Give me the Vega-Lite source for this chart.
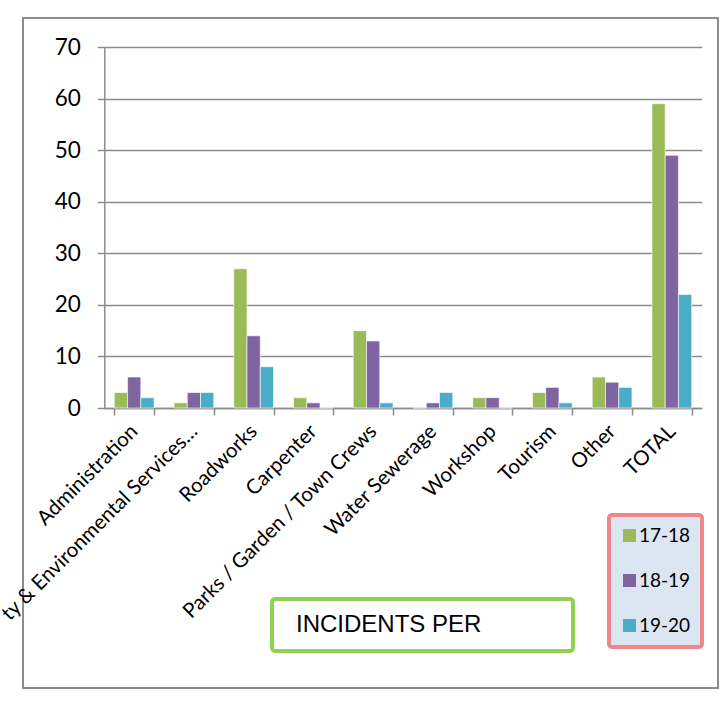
{
  "$schema": "https://vega.github.io/schema/vega-lite/v6.json",
  "autosize": "none",
  "width": 695,
  "height": 670,
  "padding": {"left": 23, "top": 18, "right": 10, "bottom": 18},
  "background": "white",
  "data": {
    "values": [
      {"dept": "Administration", "year": "17-18", "incidents": 3},
      {"dept": "Administration", "year": "18-19", "incidents": 6},
      {"dept": "Administration", "year": "19-20", "incidents": 2},
      {"dept": "ty & Environmental Services…", "year": "17-18", "incidents": 1},
      {"dept": "ty & Environmental Services…", "year": "18-19", "incidents": 3},
      {"dept": "ty & Environmental Services…", "year": "19-20", "incidents": 3},
      {"dept": "Roadworks", "year": "17-18", "incidents": 27},
      {"dept": "Roadworks", "year": "18-19", "incidents": 14},
      {"dept": "Roadworks", "year": "19-20", "incidents": 8},
      {"dept": "Carpenter", "year": "17-18", "incidents": 2},
      {"dept": "Carpenter", "year": "18-19", "incidents": 1},
      {"dept": "Carpenter", "year": "19-20", "incidents": 0},
      {"dept": "Parks / Garden / Town Crews", "year": "17-18", "incidents": 15},
      {"dept": "Parks / Garden / Town Crews", "year": "18-19", "incidents": 13},
      {"dept": "Parks / Garden / Town Crews", "year": "19-20", "incidents": 1},
      {"dept": "Water Sewerage", "year": "17-18", "incidents": 0},
      {"dept": "Water Sewerage", "year": "18-19", "incidents": 1},
      {"dept": "Water Sewerage", "year": "19-20", "incidents": 3},
      {"dept": "Workshop", "year": "17-18", "incidents": 2},
      {"dept": "Workshop", "year": "18-19", "incidents": 2},
      {"dept": "Workshop", "year": "19-20", "incidents": 0},
      {"dept": "Tourism", "year": "17-18", "incidents": 3},
      {"dept": "Tourism", "year": "18-19", "incidents": 4},
      {"dept": "Tourism", "year": "19-20", "incidents": 1},
      {"dept": "Other", "year": "17-18", "incidents": 6},
      {"dept": "Other", "year": "18-19", "incidents": 5},
      {"dept": "Other", "year": "19-20", "incidents": 4},
      {"dept": "TOTAL", "year": "17-18", "incidents": 59},
      {"dept": "TOTAL", "year": "18-19", "incidents": 49},
      {"dept": "TOTAL", "year": "19-20", "incidents": 22}
    ]
  },
  "mark": {"type": "bar", "stroke": "white", "strokeWidth": 0.6},
  "encoding": {
    "x": {
      "field": "dept",
      "type": "nominal",
      "sort": null,
      "scale": {"range": [81.3, 678.7], "paddingInner": 0.335, "paddingOuter": 0.1675},
      "axis": {
        "title": null,
        "orient": "bottom",
        "offset": -280,
        "labelAngle": -45,
        "labelAlign": "right",
        "labelBaseline": "middle",
        "labelFont": "Lato",
        "labelFontSize": 20.5,
        "labelColor": "black",
        "labelPadding": 13,
        "labelLimit": 500,
        "labelOverlap": false,
        "labelBound": false,
        "tickBand": "extent",
        "tickSize": 7,
        "tickColor": "#8c8c8c",
        "tickWidth": 1.5,
        "domainColor": "#8c8c8c",
        "domainWidth": 1.5,
        "grid": false
      }
    },
    "xOffset": {"field": "year", "type": "nominal", "sort": ["17-18", "18-19", "19-20"]},
    "y": {
      "field": "incidents",
      "type": "quantitative",
      "scale": {"domain": [0, 70], "range": [390, 29], "nice": false},
      "axis": {
        "title": null,
        "orient": "left",
        "offset": -81.3,
        "values": [0, 10, 20, 30, 40, 50, 60, 70],
        "labelFont": "Lato",
        "labelFontSize": 22.5,
        "labelColor": "black",
        "labelPadding": 17,
        "tickSize": 7,
        "tickColor": "#8c8c8c",
        "tickWidth": 1.5,
        "domainColor": "#8c8c8c",
        "domainWidth": 1.5,
        "grid": true,
        "gridColor": "#8c8c8c",
        "gridWidth": 1.5
      }
    },
    "color": {
      "field": "year",
      "type": "nominal",
      "scale": {"domain": ["17-18", "18-19", "19-20"], "range": ["#9bbb59", "#8064a2", "#4bacc6"]},
      "legend": {
        "title": null,
        "orient": "none",
        "legendX": 586,
        "legendY": 497,
        "fillColor": "#dce6f2",
        "strokeColor": "#f0858a",
        "cornerRadius": 3,
        "padding": 11,
        "symbolType": "square",
        "symbolSize": 169,
        "symbolStrokeWidth": 0,
        "labelFont": "Lato",
        "labelFontSize": 19,
        "labelColor": "black",
        "labelOffset": 0,
        "rowPadding": 25
      }
    },
    "opacity": {
      "datum": "INCIDENTS PER",
      "type": "ordinal",
      "scale": {"range": [1]},
      "legend": {
        "title": "\u2800",
        "titleOrient": "right",
        "titleFontSize": 1,
        "titlePadding": 77,
        "orient": "none",
        "legendX": 249,
        "legendY": 581,
        "fillColor": "white",
        "strokeColor": "#92d050",
        "cornerRadius": 3,
        "padding": 14,
        "symbolType": "square",
        "symbolSize": 1,
        "symbolStrokeWidth": 0,
        "symbolFillColor": "white",
        "labelFont": "Liberation Sans",
        "labelFontSize": 24,
        "labelColor": "black",
        "labelOffset": -14,
        "labelLimit": 500
      }
    }
  },
  "config": {
    "view": {"stroke": "#8c8c8c", "strokeWidth": 2},
    "legend": {"strokeWidth": 4}
  }
}
